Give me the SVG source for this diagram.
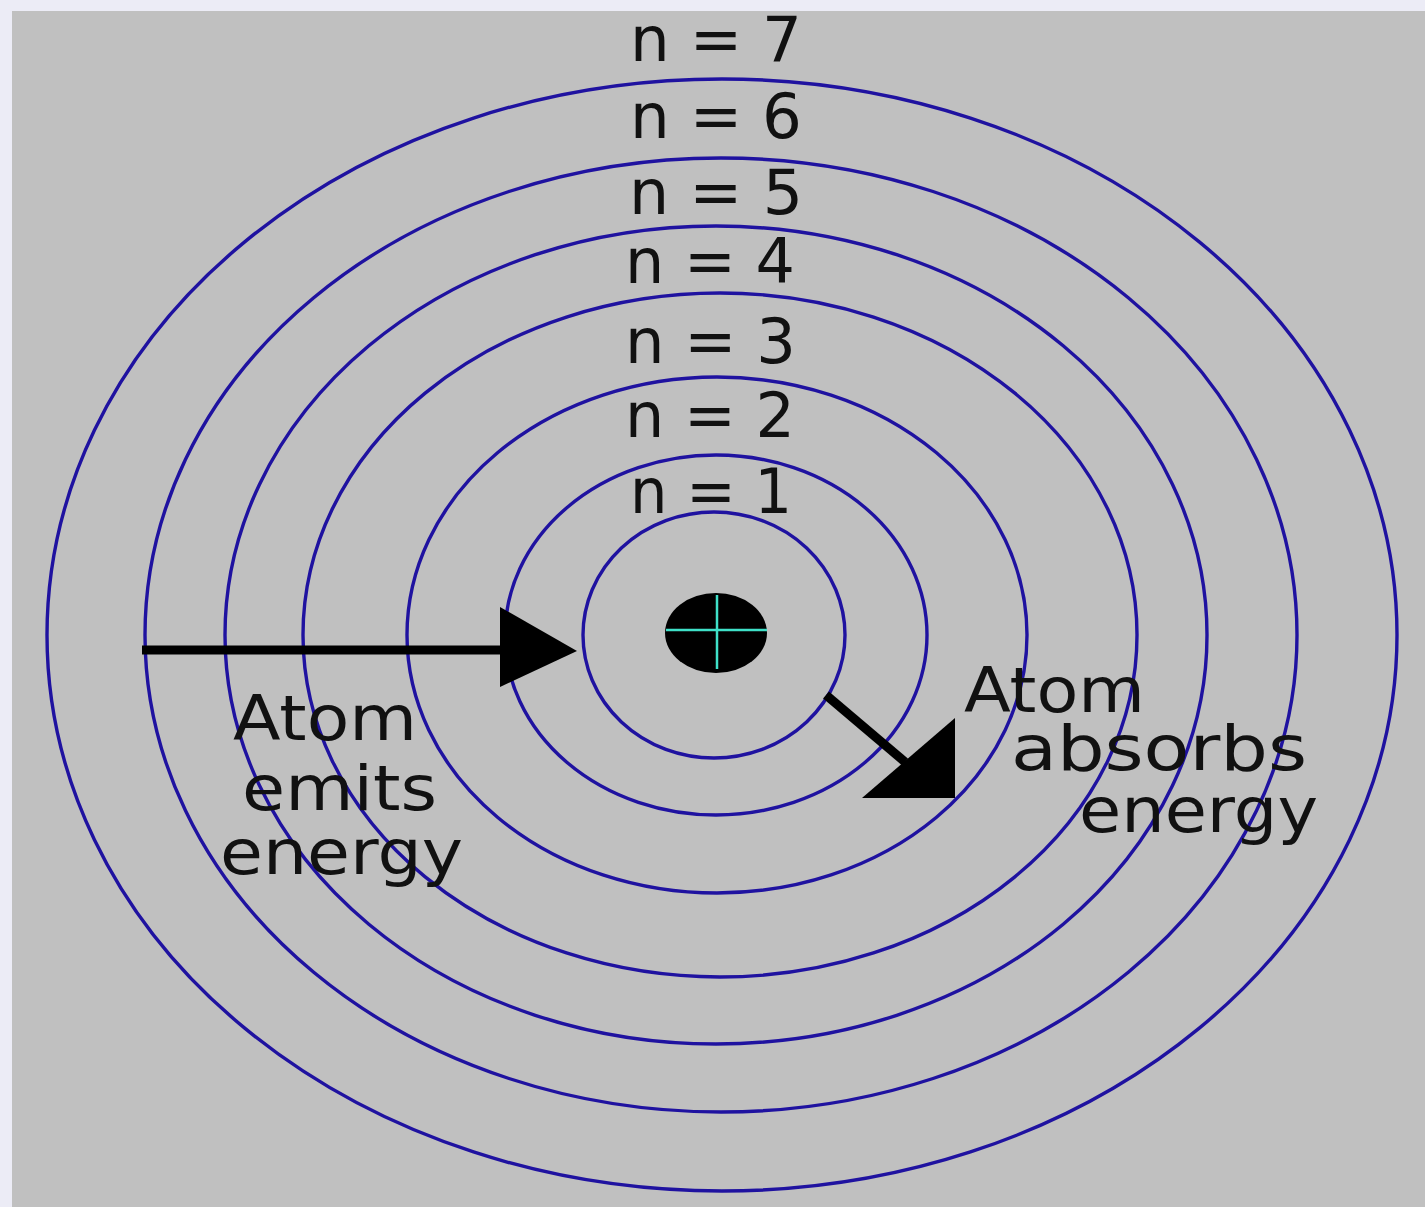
<svg xmlns="http://www.w3.org/2000/svg" width="1425" height="1207" viewBox="0 0 1425 1207">
<style>
.orbit{fill:none;stroke:#1f12a0;stroke-width:3.4}
.lbl{font-family:"DejaVu Sans","Liberation Sans",sans-serif;font-size:62px;fill:#111}
.arrow{stroke:#000;stroke-width:9;fill:none}
.head{fill:#000}
</style>
<rect x="0" y="0" width="1425" height="1207" fill="#ececf6"/>
<rect x="12" y="11" width="1413" height="1196" fill="#c0c0c0"/>
<g id="orbits">
<ellipse id="orbit-1" class="orbit" cx="714" cy="635" rx="131" ry="123"/>
<ellipse id="orbit-2" class="orbit" cx="716" cy="635" rx="211" ry="180"/>
<ellipse id="orbit-3" class="orbit" cx="717" cy="635" rx="310" ry="258"/>
<ellipse id="orbit-4" class="orbit" cx="720" cy="635" rx="417" ry="342"/>
<ellipse id="orbit-5" class="orbit" cx="716" cy="635" rx="491" ry="409"/>
<ellipse id="orbit-6" class="orbit" cx="721" cy="635" rx="576" ry="477"/>
<ellipse id="orbit-7" class="orbit" cx="722" cy="635" rx="675" ry="556"/>
</g>
<g id="nucleus">
<ellipse cx="716" cy="633" rx="51" ry="40" fill="#000"/>
<line x1="666" y1="630" x2="767" y2="630" stroke="#3fe0c8" stroke-width="2.5"/>
<line x1="717" y1="595" x2="717" y2="669" stroke="#3fe0c8" stroke-width="2.5"/>
</g>
<g id="level-labels">
<text class="lbl" x="630" y="61" textLength="172" lengthAdjust="spacingAndGlyphs">n = 7</text>
<text class="lbl" x="630" y="138" textLength="172" lengthAdjust="spacingAndGlyphs">n = 6</text>
<text class="lbl" x="629" y="214" textLength="174" lengthAdjust="spacingAndGlyphs">n = 5</text>
<text class="lbl" x="625" y="283" textLength="170" lengthAdjust="spacingAndGlyphs">n = 4</text>
<text class="lbl" x="625" y="363" textLength="171" lengthAdjust="spacingAndGlyphs">n = 3</text>
<text class="lbl" x="625" y="437" textLength="170" lengthAdjust="spacingAndGlyphs">n = 2</text>
<text class="lbl" x="630" y="513" textLength="162" lengthAdjust="spacingAndGlyphs">n = 1</text>
</g>
<g id="emit-label">
<text class="lbl" x="233" y="740" textLength="184" lengthAdjust="spacingAndGlyphs">Atom</text>
<text class="lbl" x="242" y="810" textLength="195" lengthAdjust="spacingAndGlyphs">emits</text>
<text class="lbl" x="220" y="874" textLength="243" lengthAdjust="spacingAndGlyphs">energy</text>
</g>
<g id="absorb-label">
<text class="lbl" x="964" y="712" textLength="181" lengthAdjust="spacingAndGlyphs">Atom</text>
<text class="lbl" x="1011" y="770" textLength="296" lengthAdjust="spacingAndGlyphs">absorbs</text>
<text class="lbl" x="1079" y="832" textLength="239" lengthAdjust="spacingAndGlyphs">energy</text>
</g>
<g id="connectors">
<line class="arrow" x1="142" y1="650" x2="505" y2="650"/>
<polygon class="head" points="500,607 577,651 500,687"/>
<line class="arrow" x1="826" y1="695" x2="905" y2="762"/>
<polygon class="head" points="955,718 955,798 862,798"/>
</g>
</svg>
